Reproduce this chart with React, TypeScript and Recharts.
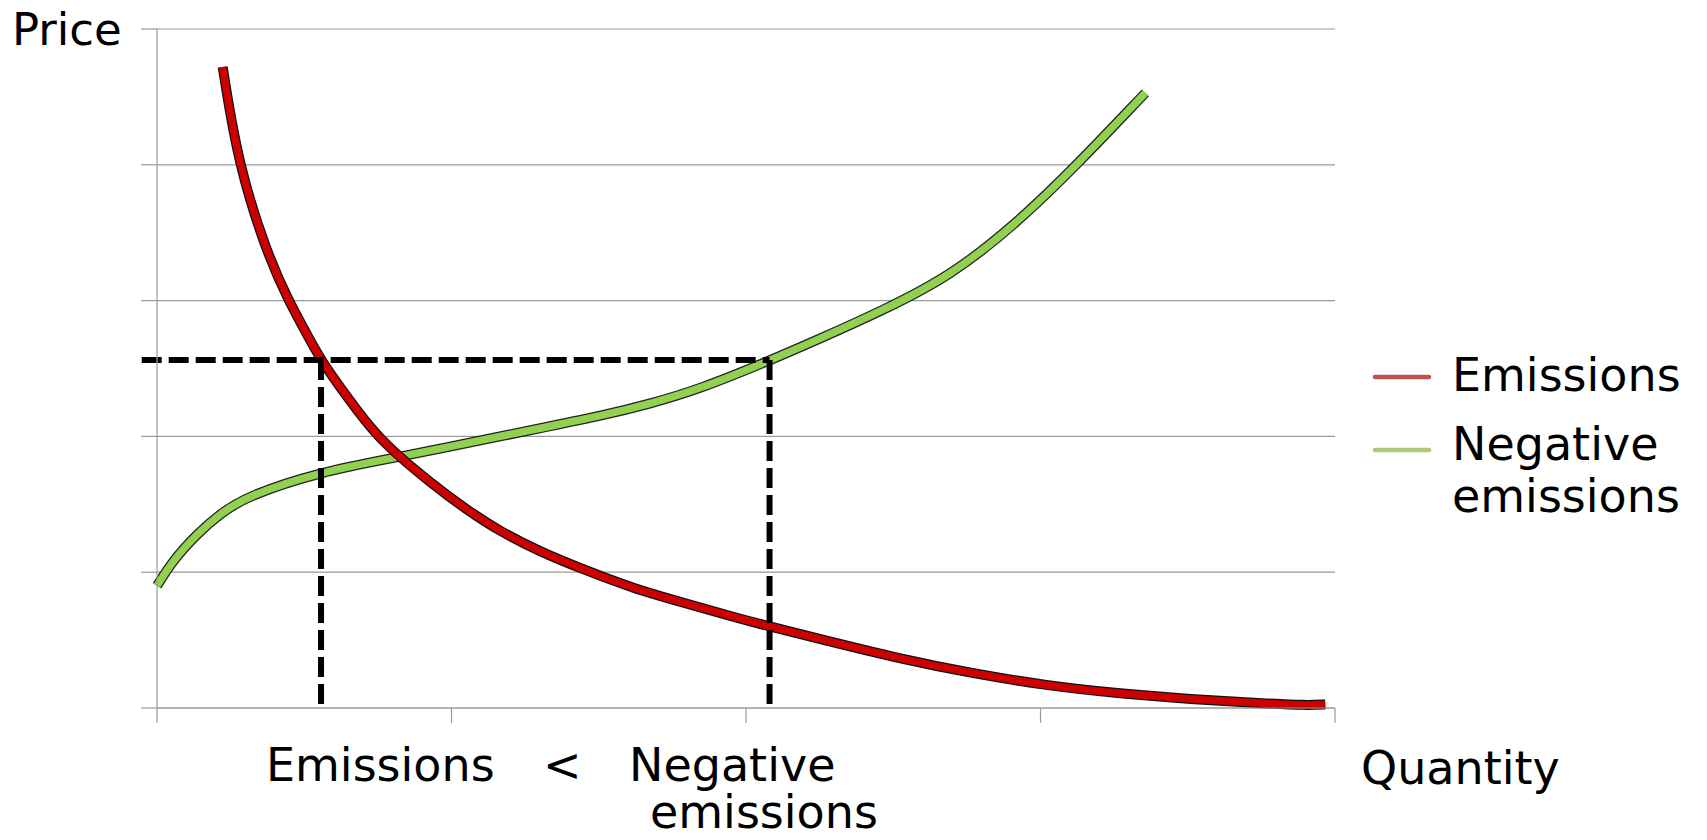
import React from 'react';
import { LineChart, Line, XAxis, YAxis, CartesianGrid, ReferenceLine } from 'recharts';

// Emissions (red) curve: quantity -> price
const emissionsQty = [0.223, 0.276, 0.373, 0.446, 0.52, 0.559, 0.686, 0.768, 0.939, 1.052, 1.165, 1.301, 1.448, 1.618, 1.788, 1.958, 2.08, 2.266, 2.517, 2.768, 3.02, 3.271, 3.522, 3.774, 3.899, 3.967];
const emissionsPrice = [4.72, 4.0, 3.35, 3.0, 2.71, 2.55, 2.17, 1.95, 1.64, 1.46, 1.3, 1.15, 1.02, 0.88, 0.775, 0.67, 0.6, 0.5, 0.365, 0.255, 0.165, 0.105, 0.063, 0.033, 0.02, 0.026];

// Negative emissions (green) curve
const negQty = [0, 0.055, 0.135, 0.214, 0.305, 0.554, 0.825, 0.995, 1.165, 1.335, 1.505, 1.675, 1.844, 2.071, 2.241, 2.467, 2.694, 2.92, 3.124, 3.356];
const negPrice = [0.9, 1.09, 1.28, 1.43, 1.56, 1.74, 1.85, 1.925, 2.0, 2.075, 2.15, 2.24, 2.35, 2.55, 2.71, 2.93, 3.18, 3.57, 4.0, 4.53];

// dashed guides
const cutPrice = 2.563;
const emissionsCut = 0.557;
const negativeCut = 2.08;
const guideStart = -0.052;

const xTicks = [0, 1, 2, 3, 4];
const yTicks = [0, 1, 2, 3, 4, 5];

const emissionsData = emissionsQty.map((q, i) => ({ q, p: emissionsPrice[i] }));
const negativeData = negQty.map((q, i) => ({ q, p: negPrice[i] }));

const FONT = '"DejaVu Sans", Verdana, sans-serif';
const GRID = '#9a9a9a';

export default function App() {
    return (
        <div style={{ position: 'absolute', left: 0, top: 0, width: 1707, height: 840, background: '#fff' }}>
            <LineChart
                width={1707}
                height={840}
                margin={{ top: 29, right: 372, bottom: 117, left: 141 }}
            >
                <CartesianGrid vertical={false} stroke={GRID} strokeWidth={1.2} />
                <XAxis
                    type="number"
                    dataKey="q"
                    domain={[0, 4]}
                    ticks={xTicks}
                    tickSize={15}
                    height={15}
                    tickFormatter={() => ''}
                    stroke={GRID}
                    strokeWidth={1.2}
                    allowDuplicatedCategory={false}
                />
                <YAxis
                    type="number"
                    domain={[0, 5]}
                    ticks={yTicks}
                    tickSize={16}
                    width={16}
                    tickFormatter={() => ''}
                    stroke={GRID}
                    strokeWidth={1.2}
                />
                <Line data={negativeData} dataKey="p" type="basis" stroke="#222" strokeWidth={10} dot={false} activeDot={false} isAnimationActive={false} />
                <Line data={negativeData} dataKey="p" type="basis" stroke="#92d050" strokeWidth={7.5} dot={false} activeDot={false} isAnimationActive={false} />
                <Line data={emissionsData} dataKey="p" type="basis" stroke="#111" strokeWidth={10} dot={false} activeDot={false} isAnimationActive={false} />
                <Line data={emissionsData} dataKey="p" type="basis" stroke="#cc0000" strokeWidth={7.5} dot={false} activeDot={false} isAnimationActive={false} />
                <ReferenceLine
                    segment={[{ x: guideStart, y: cutPrice }, { x: negativeCut, y: cutPrice }]}
                    stroke="#000"
                    strokeWidth={6}
                    strokeDasharray="20 7"
                    ifOverflow="visible"
                />
                <ReferenceLine
                    segment={[{ x: emissionsCut, y: cutPrice }, { x: emissionsCut, y: 0 }]}
                    stroke="#000"
                    strokeWidth={6}
                    strokeDasharray="20 7"
                    ifOverflow="visible"
                />
                <ReferenceLine
                    segment={[{ x: negativeCut, y: cutPrice }, { x: negativeCut, y: 0 }]}
                    stroke="#000"
                    strokeWidth={6}
                    strokeDasharray="20 7"
                    ifOverflow="visible"
                />
            </LineChart>
            <svg
                width={1707}
                height={840}
                style={{ position: 'absolute', left: 0, top: 0, pointerEvents: 'none' }}
                fontFamily={FONT}
                fontSize={46}
                fill="#000"
            >
                <text x={12} y={45} fontSize={45}>Price</text>
                <text x={1361} y={784}>Quantity</text>
                <text x={266} y={781}>Emissions</text>
                <text x={543} y={781}>&lt;</text>
                <text x={629} y={781}>Negative</text>
                <text x={650} y={828}>emissions</text>
                <line x1={1375} y1={377} x2={1429} y2={377} stroke="#c0504d" strokeWidth={4.5} strokeLinecap="round" />
                <line x1={1375} y1={450} x2={1429} y2={450} stroke="#9bbb59" strokeWidth={4.5} strokeLinecap="round" opacity={0.8} />
                <text x={1452} y={391}>Emissions</text>
                <text x={1452} y={460}>Negative</text>
                <text x={1452} y={512}>emissions</text>
            </svg>
        </div>
    );
}
